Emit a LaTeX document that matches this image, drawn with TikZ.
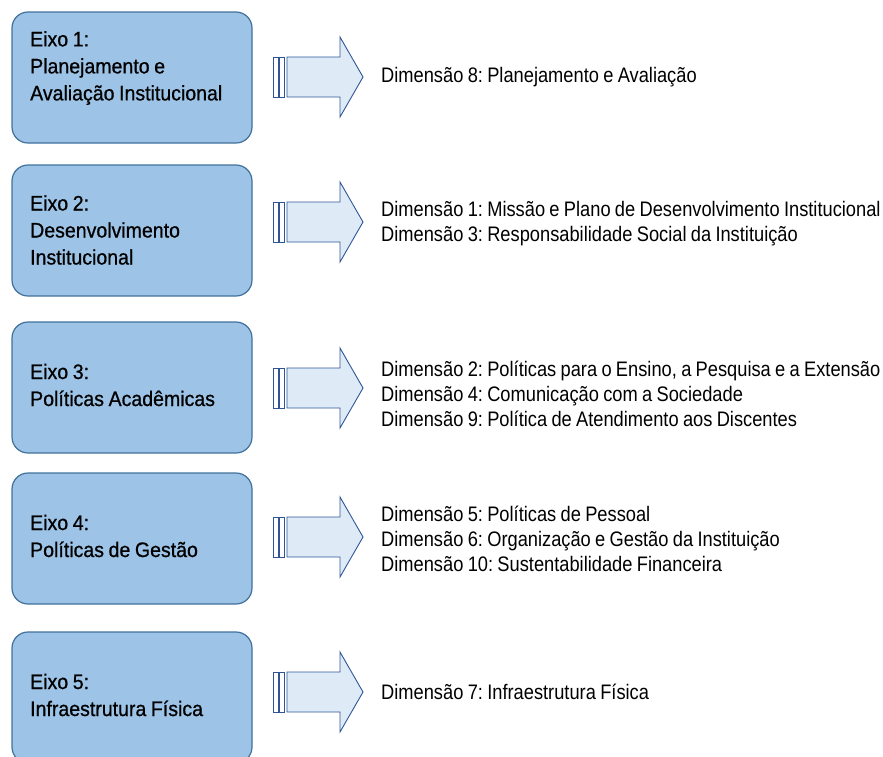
\documentclass[tikz,border=0pt]{standalone}
\usepackage{fontspec}
\setmainfont[FakeStretch=0.87, WordSpace=0.85]{Liberation Sans}
\newfontfamily\eixofont[FakeStretch=0.93, FakeBold=0.7, WordSpace=0.85]{Liberation Sans}
\usetikzlibrary{positioning}
\frenchspacing

\definecolor{eixofill}{HTML}{9DC3E6}
\definecolor{eixoline}{HTML}{41719C}
\definecolor{setafill}{HTML}{DEEBF7}
\definecolor{setaline}{HTML}{2F5597}

\begin{document}
\begin{tikzpicture}[x=1pt,y=-1pt,
    eixo/.style={draw=eixoline, fill=eixofill, rounded corners=16pt, line width=1.2pt, minimum width=240pt, minimum height=131pt, inner sep=0pt},
    eixotxt/.style={align=left, anchor=west, inner sep=0pt, font=\eixofont\fontsize{21}{27}\selectfont},
    listra/.style={draw=setaline, fill=white, line width=0.9pt, minimum width=5pt, minimum height=40pt, inner sep=0pt},
    seta/.style={draw=setaline, fill=setafill, line width=0.9pt, line join=miter},
    dimtxt/.style={align=left, anchor=west, inner sep=0pt, font=\fontsize{21}{25}\selectfont}]
    \clip (0,0) rectangle (883,756);

    % one row per eixo: box centre, text centre, arrow centre, list centre, texts
    \foreach \n/\yb/\yt/\ya/\yd/\eixo/\dims in {
        1/77.5/68/77/77/{Eixo 1:\\Planejamento e\\Avaliação Institucional}/{Dimensão 8: Planejamento e Avaliação},
        2/230.5/230/222/224/{Eixo 2:\\Desenvolvimento\\Institucional}/{Dimensão 1: Missão e Plano de Desenvolvimento Institucional\\Dimensão 3: Responsabilidade Social da Instituição},
        3/387.5/385/388/394/{Eixo 3:\\Políticas Acadêmicas}/{Dimensão 2: Políticas para o Ensino, a Pesquisa e a Extensão\\Dimensão 4: Comunicação com a Sociedade\\Dimensão 9: Política de Atendimento aos Discentes},
        4/538.5/536/537/539/{Eixo 4:\\Políticas de Gestão}/{Dimensão 5: Políticas de Pessoal\\Dimensão 6: Organização e Gestão da Instituição\\Dimensão 10: Sustentabilidade Financeira},
        5/697.5/695/692/692/{Eixo 5:\\Infraestrutura Física}/{Dimensão 7: Infraestrutura Física}} {
        \node[eixo] (eixo\n) at (132,\yb) {};
        \node[eixotxt] (eixotxt\n) at (30,\yt) {\eixo};
        % two thin stripes before the block arrow
        \node[listra] (listraA\n) at (275.5,\ya) {};
        \node[listra] (listraB\n) at (281.5,\ya) {};
        \draw[seta] (287,\ya-20) -- ++(53,0) -- ++(0,-20) -- (363,\ya) -- (340,\ya+40) -- ++(0,-20) -- (287,\ya+20) -- cycle;
        \node[dimtxt] (dim\n) at (381,\yd) {\dims};
    }
\end{tikzpicture}
\end{document}
